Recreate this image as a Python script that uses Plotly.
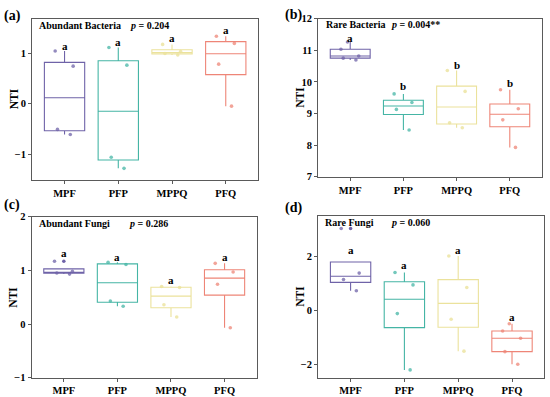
import numpy as np
import plotly.graph_objects as go

FONT = "Liberation Serif"

# ---------------- data (NTI values) ----------------
groups = ["MPF", "PFP", "MPPQ", "PFQ"]
group_colors = ["#6f63a8", "#45b5a5", "#ebe29c", "#ee8577"]
point_colors = ["rgba(111,99,168,0.75)", "rgba(69,181,165,0.75)",
                "rgba(235,226,156,0.8)", "rgba(238,133,119,0.75)"]

# (a) Abundant Bacteria
ab_bac = [[1.04, 0.74, -0.51, -0.61],
          [1.11, 0.76, -1.06, -1.28],
          [1.17, 1.03, 0.99, 0.96],
          [1.33, 1.19, 0.78, -0.05]]
ab_bac_sig = ["a", "a", "a", "a"]
ab_bac_sig_y = [1.14, 1.21, 1.29, 1.45]

# (b) Rare Bacteria
rare_bac = [[11.26, 11.03, 10.82, 10.75, 10.69],
            [9.62, 9.35, 9.13, 8.48],
            [10.36, 9.70, 8.71, 8.55],
            [9.75, 9.15, 8.80, 7.93]]
rare_bac_sig = ["a", "b", "b", "b"]
rare_bac_sig_y = [11.39, 9.86, 10.54, 9.96]

# (c) Abundant Fungi
ab_fun = [[1.17, 0.98, 0.95, 0.93],
          [1.15, 1.11, 0.43, 0.33],
          [0.70, 0.68, 0.36, 0.13],
          [1.13, 0.97, 0.74, -0.07]]
ab_fun_sig = ["a", "a", "a", "a"]
ab_fun_sig_y = [1.32, 1.25, 0.82, 1.24]

# (d) Rare Fungi
rare_fun = [[3.05, 1.39, 1.15, 0.73],
            [1.41, 0.95, -0.12, -2.22],
            [2.03, 0.85, -0.33, -1.52],
            [-0.50, -0.77, -1.04, -1.54, -2.01]]
rare_fun_sig = ["a", "a", "a", "a"]
rare_fun_sig_y = [2.24, 1.70, 2.24, -0.25]

panel_names = ["Abundant Bacteria", "Rare Bacteria", "Abundant Fungi", "Rare Fungi"]
panel_p = ["0.204", "0.004**", "0.286", "0.060"]
panel_tags = ["(a)", "(b)", "(c)", "(d)"]

# ---------------- layout geometry ----------------
W, H = 550, 397
panels = [
    dict(data=ab_bac, sig=ab_bac_sig, sig_y=ab_bac_sig_y, yr=[-1.51, 1.68], dt=1,
         px=(32.3, 258.0), py=(14.0, 180.0), name_x=0.021, p_x=0.425,
         tag_xy=(2, 11.5), nti_x=14),
    dict(data=rare_bac, sig=rare_bac_sig, sig_y=rare_bac_sig_y, yr=[7, 12], dt=1,
         px=(318.3, 541.7), py=(14.0, 176.7), name_x=0.026, p_x=0.316,
         tag_xy=(283, 10.5), nti_x=300),
    dict(data=ab_fun, sig=ab_fun_sig, sig_y=ab_fun_sig_y, yr=[-1, 2], dt=1,
         px=(31.7, 256.7), py=(217.7, 383.3), name_x=0.024, p_x=0.422,
         tag_xy=(2, 206), nti_x=13.5),
    dict(data=rare_fun, sig=rare_fun_sig, sig_y=rare_fun_sig_y, yr=[-2.51, 3.53], dt=2,
         px=(318.3, 544.3), py=(216.7, 383.3), name_x=0.021, p_x=0.311,
         tag_xy=(283, 208.5), nti_x=300),
]

AXIS_COL = "#5a5a5a"
fig = go.Figure()
annotations = []

for k, P in enumerate(panels):
    sfx = "" if k == 0 else str(k + 1)
    xa, ya = "x" + sfx, "y" + sfx
    for gi, (g, vals) in enumerate(zip(groups, P["data"])):
        v = np.array(vals, dtype=float)
        q1, med, q3 = np.percentile(v, [25, 50, 75])
        iqr = q3 - q1
        lo_f, hi_f = q1 - 1.5 * iqr, q3 + 1.5 * iqr
        inside = v[(v >= lo_f) & (v <= hi_f)]
        outl = v[(v < lo_f) | (v > hi_f)]
        lo = min(inside.min(), q1)
        hi = max(inside.max(), q3)
        c = group_colors[gi]
        # box (ggplot-style statistics)
        fig.add_trace(go.Box(
            x=[g], q1=[q1], median=[med], q3=[q3], lowerfence=[lo], upperfence=[hi],
            width=0.75, whiskerwidth=0, boxpoints=False,
            line=dict(color=c, width=1.1), fillcolor="rgba(255,255,255,0)",
            xaxis=xa, yaxis=ya, showlegend=False, hoverinfo="skip"))
        # outliers at box centre
        if len(outl):
            fig.add_trace(go.Scatter(
                x=[g] * len(outl), y=outl, mode="markers",
                marker=dict(color=c, size=3.5), xaxis=xa, yaxis=ya,
                showlegend=False, hoverinfo="skip"))
        # jittered raw points
        fig.add_trace(go.Box(
            x=[g] * len(v), y=v, boxpoints="all", jitter=0.55, pointpos=0,
            width=0.75, whiskerwidth=0,
            line=dict(color="rgba(0,0,0,0)", width=0), fillcolor="rgba(0,0,0,0)",
            marker=dict(color=point_colors[gi], size=3.6),
            xaxis=xa, yaxis=ya, showlegend=False, hoverinfo="skip"))
        # significance letters
        annotations.append(dict(
            x=g, y=P["sig_y"][gi], xref=xa, yref=ya, text="<b>%s</b>" % P["sig"][gi],
            showarrow=False, xanchor="center", yanchor="middle",
            font=dict(family=FONT, size=11, color="black")))

    x0, x1 = P["px"]
    y0, y1 = P["py"]
    fig.layout["xaxis" + sfx] = dict(
        domain=[x0 / W, x1 / W], anchor=ya, type="category",
        categoryorder="array", categoryarray=groups, range=[-0.6, 3.6],
        showline=True, mirror=True, linecolor=AXIS_COL, linewidth=1.3,
        ticks="outside", ticklen=3, tickwidth=1, tickcolor=AXIS_COL,
        tickfont=dict(family=FONT, size=10.5, color="black", weight="bold"),
        showgrid=False, zeroline=False, fixedrange=True)
    fig.layout["yaxis" + sfx] = dict(
        domain=[1 - y1 / H, 1 - y0 / H], anchor=xa, range=P["yr"],
        tick0=0, dtick=P["dt"],
        showline=True, mirror=True, linecolor=AXIS_COL, linewidth=1.3,
        ticks="outside", ticklen=3, tickwidth=1, tickcolor=AXIS_COL,
        tickfont=dict(family=FONT, size=10.5, color="black", weight="bold"),
        showgrid=False, zeroline=False, fixedrange=True)

    # panel header text inside plot
    annotations.append(dict(
        x=P["name_x"], y=0.96, xref=xa + " domain", yref=ya + " domain",
        text="<b>%s</b>" % panel_names[k], showarrow=False,
        xanchor="left", yanchor="middle", font=dict(family=FONT, size=10, color="black")))
    annotations.append(dict(
        x=P["p_x"], y=0.96, xref=xa + " domain", yref=ya + " domain",
        text="<b><i>p</i> = %s</b>" % panel_p[k], showarrow=False,
        xanchor="left", yanchor="middle", font=dict(family=FONT, size=10, color="black")))
    # panel tag
    tx, ty = P["tag_xy"]
    annotations.append(dict(
        x=tx / W, y=1 - ty / H, xref="paper", yref="paper",
        text="<b>%s</b>" % panel_tags[k], showarrow=False,
        xanchor="left", yanchor="middle", font=dict(family=FONT, size=14, color="black")))
    # y-axis title
    annotations.append(dict(
        x=P["nti_x"] / W, y=1 - (y0 + y1) / 2 / H, xref="paper", yref="paper",
        text="<b>NTI</b>", textangle=-90, showarrow=False,
        xanchor="center", yanchor="middle", font=dict(family=FONT, size=11.5, color="black")))

fig.update_layout(
    width=W, height=H, margin=dict(l=0, r=0, t=0, b=0),
    paper_bgcolor="white", plot_bgcolor="white",
    boxmode="overlay", showlegend=False, annotations=annotations)

fig.write_html("out.html", config={"displayModeBar": False},
               post_script="document.body.style.margin='0';document.body.style.padding='0';"
                           "document.body.style.overflow='hidden';")
